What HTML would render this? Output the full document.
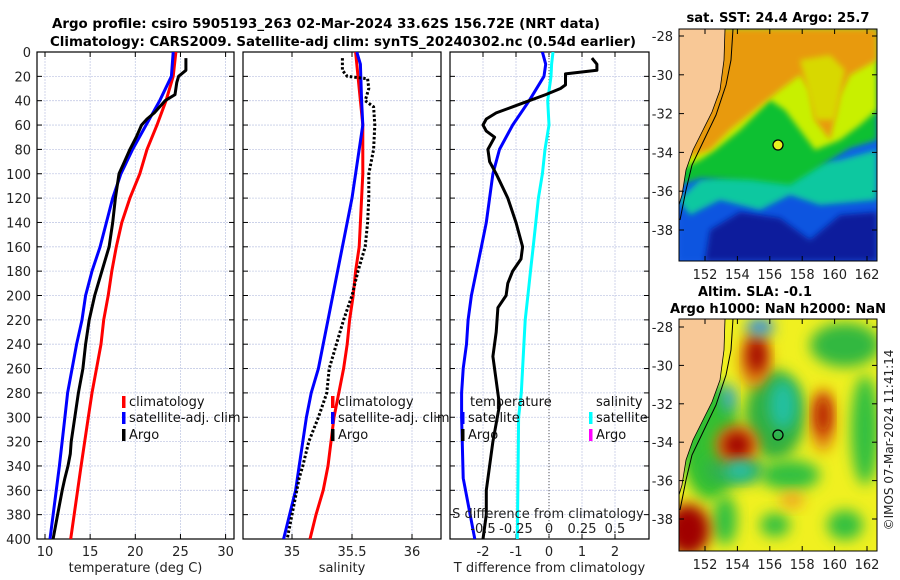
<!DOCTYPE html>
<html><head><meta charset="utf-8"><style>
html,body{margin:0;padding:0;background:#fff;}
svg{display:block;font-family:"DejaVu Sans","Liberation Sans",sans-serif;}
</style></head><body>
<svg id="c" width="900" height="580" viewBox="0 0 900 580" xmlns="http://www.w3.org/2000/svg">
<defs>
<clipPath id="clip1"><rect x="37" y="52" width="197" height="487"/></clipPath>
<clipPath id="clip2"><rect x="243" y="52" width="198" height="487"/></clipPath>
<clipPath id="clip3"><rect x="450" y="52" width="199" height="487"/></clipPath>
<clipPath id="cm1"><rect x="679" y="29" width="198" height="232"/></clipPath>
<clipPath id="cm2"><rect x="679" y="319" width="198" height="232"/></clipPath>
<filter id="bl" x="-50%" y="-50%" width="200%" height="200%"><feGaussianBlur stdDeviation="7"/></filter>
<filter id="bl2" x="-50%" y="-50%" width="200%" height="200%"><feGaussianBlur stdDeviation="3"/></filter>
</defs>
<g font-weight="bold" font-size="13" text-anchor="middle" fill="#000">
<text x="326" y="28" textLength="548" lengthAdjust="spacingAndGlyphs">Argo profile: csiro 5905193_263 02-Mar-2024 33.62S 156.72E (NRT data)</text>
<text x="343" y="46" textLength="586" lengthAdjust="spacingAndGlyphs">Climatology: CARS2009. Satellite-adj clim: synTS_20240302.nc (0.54d earlier)</text>
<text x="778" y="22" textLength="183" lengthAdjust="spacingAndGlyphs">sat. SST: 24.4 Argo: 25.7</text>
<text x="755" y="296" textLength="114" lengthAdjust="spacingAndGlyphs">Altim. SLA: -0.1</text>
<text x="778" y="313" textLength="216" lengthAdjust="spacingAndGlyphs">Argo h1000: NaN h2000: NaN</text>
</g>
<g id="plots"></g>
<g id="maps"></g>
<text transform="translate(893,440) rotate(-90)" font-size="12" text-anchor="middle" fill="#222">©IMOS 07-Mar-2024 11:41:14</text>
</svg>
<script>
// ---- data ----
const tDepth=[0,20,40,60,80,100,120,140,160,180,200,220,240,260,280,300,340,400];
const tClim=[24.5,24.2,23.4,22.4,21.3,20.5,19.4,18.5,17.9,17.4,17.0,16.5,16.2,15.7,15.2,14.8,14.0,12.85];
const tSat=[24.2,24.0,22.7,21.2,19.7,18.4,17.5,16.8,16.1,15.2,14.5,14.1,13.5,13.0,12.5,12.2,11.6,10.55];
const argoDepth=[5,15,20,25,35,40,50,55,60,70,80,90,100,120,140,160,180,200,220,240,260,280,300,320,330,340,350,360,380,400];
const argoT=[25.6,25.6,24.8,24.6,24.4,23.3,22.1,21.3,20.7,20.1,19.4,18.8,18.2,17.8,17.5,17.1,16.3,15.5,14.9,14.5,14.2,13.7,13.3,12.9,12.8,12.55,12.2,11.9,11.4,10.9];
const sDepth=[0,10,40,60,80,100,120,140,160,180,200,220,240,260,280,300,340,360,380,400];
const sClim=[35.53,35.54,35.57,35.59,35.59,35.59,35.58,35.57,35.56,35.53,35.51,35.48,35.46,35.43,35.39,35.35,35.30,35.26,35.20,35.15];
const sSat=[35.54,35.57,35.58,35.59,35.56,35.53,35.50,35.46,35.42,35.38,35.34,35.30,35.26,35.22,35.16,35.12,35.06,35.03,34.98,34.93];
const argoSDepth=[5,15,20,22,30,40,45,60,80,100,120,140,160,180,200,220,240,260,280,300,320,340,350,400];
const argoS=[35.42,35.42,35.46,35.63,35.64,35.61,35.68,35.69,35.68,35.64,35.64,35.63,35.61,35.55,35.50,35.43,35.37,35.31,35.29,35.22,35.14,35.09,35.06,34.96];
const dDepth=[0,10,20,40,60,80,100,120,140,160,180,200,220,240,260,280,300,350,400];
const dTsat=[-0.2,-0.1,-0.15,-0.6,-1.1,-1.5,-1.7,-1.8,-1.9,-2.05,-2.2,-2.35,-2.45,-2.5,-2.6,-2.65,-2.65,-2.6,-2.25];
const dArgoDepth=[5,10,15,18,27,30,35,40,45,50,55,60,65,70,80,90,100,120,140,160,170,180,190,200,210,230,250,270,290,320,340,360,380,400];
const dTargo=[1.3,1.45,1.45,0.5,0.5,0.35,-0.1,-0.6,-1.1,-1.6,-1.9,-2.0,-1.9,-1.65,-1.85,-1.8,-1.6,-1.25,-1.0,-0.8,-0.85,-1.1,-1.25,-1.3,-1.55,-1.6,-1.7,-1.6,-1.5,-1.7,-1.8,-1.9,-1.9,-2.0];
const dSsat=[0.03,0.02,0.015,-0.01,0,-0.03,-0.05,-0.08,-0.1,-0.12,-0.14,-0.16,-0.18,-0.19,-0.2,-0.21,-0.23,-0.235,-0.24];
const yTicks=[0,20,40,60,80,100,120,140,160,180,200,220,240,260,280,300,320,340,360,380,400];
const p1Ticks=[10,15,20,25,30];
const p2Ticks=[35,35.5,36];
const p3Ticks=[-2,-1,0,1,2];
const p3STicks=[-0.5,-0.25,0,0.25,0.5];
const map1LatTicks=[-28,-30,-32,-34,-36,-38];
const lonTicks=[152,154,156,158,160,162];
// ---- scales ----
const NS='http://www.w3.org/2000/svg';
const Y=d=>52+d*1.2175;
const X1=t=>45+(t-10)*9.03;
const X2=s=>292+(s-35)*120;
const X3=t=>549+t*33;
const XS=s=>549+s*132;
const LON=l=>705+(l-152)*16.2;
const LAT1=l=>36+(-28-l)*19.4;
const LAT2=l=>327+(-28-l)*19.2;
const plots=document.getElementById('plots');
const maps=document.getElementById('maps');
function el(tag,attrs,parent,txt){const e=document.createElementNS(NS,tag);for(const k in attrs)e.setAttribute(k,attrs[k]);if(txt!==undefined)e.textContent=txt;(parent||plots).appendChild(e);return e;}
function path(xs,ys,xf){return xs.map((v,i)=>(i?'L':'M')+xf(v).toFixed(1)+','+Y(ys[i]).toFixed(1)).join('');}

function panel(x0,x1,xticks,xf,fmt,xlabel,name){
  const g=el('g',{});
  
  
  yTicks.forEach(d=>{const l=el('line',{x1:x0,x2:x1,y1:Y(d),y2:Y(d),stroke:'#c5cce6','stroke-width':0.8,'stroke-dasharray':'2,1'},g);
    
    
    el('line',{x1:x0,x2:x0+5,y1:Y(d),y2:Y(d),stroke:'#000'},g);el('line',{x1:x1-5,x2:x1,y1:Y(d),y2:Y(d),stroke:'#000'},g);});
  xticks.forEach(v=>{const x=xf(v);const l=el('line',{x1:x,x2:x,y1:52,y2:539,stroke:'#c5cce6','stroke-width':0.8,'stroke-dasharray':'2,1'},g);
    
    
    el('line',{x1:x,x2:x,y1:539,y2:534,stroke:'#000'},g);el('line',{x1:x,x2:x,y1:52,y2:57,stroke:'#000'},g);
    const t=el('text',{x:x,y:556,'font-size':13,'text-anchor':'middle',fill:'#222'},g,fmt(v));
    
    });
  const r=el('rect',{x:x0,y:52,width:x1-x0,height:487,fill:'none',stroke:'#000','stroke-width':1.2},g);
  
  
  const xl=el('text',{x:(x0+x1)/2,y:572,'font-size':13,'text-anchor':'middle',fill:'#222'},g,xlabel);
  
  
  return g;
}
panel(37,234,p1Ticks,X1,v=>String(v),'temperature (deg C)','temperature-panel');
panel(243,441,p2Ticks,X2,v=>String(v),'salinity','salinity-panel');
panel(450,649,p3Ticks,X3,v=>String(v),'T difference from climatology','difference-panel');
yTicks.forEach(d=>{const t=el('text',{x:31,y:Y(d)+5,'font-size':13,'text-anchor':'end',fill:'#222'},plots,String(d));
  
  });
const zl=el('line',{x1:X3(0),x2:X3(0),y1:52,y2:539,stroke:'#555','stroke-width':1,'stroke-dasharray':'1,2'});


function line(d,col,clip,name,dash){const p=el('path',{d:d,fill:'none',stroke:col,'stroke-width':3,'clip-path':'url(#'+clip+')','stroke-linejoin':'round'});
  if(dash)p.setAttribute('stroke-dasharray',dash);
  
  }
line(path(tClim,tDepth,X1),'#f00','clip1','temp-climatology-line');
line(path(tSat,tDepth,X1),'#00f','clip1','temp-satellite-line');
line(path(argoT,argoDepth,X1),'#000','clip1','temp-argo-line');
line(path(sClim,sDepth,X2),'#f00','clip2','sal-climatology-line');
line(path(sSat,sDepth,X2),'#00f','clip2','sal-satellite-line');
line(path(argoS,argoSDepth,X2),'#000','clip2','sal-argo-line','2.5,2');
line(path(dSsat,dDepth,XS),'#0ff','clip3','sdiff-satellite-line');
line(path(dTsat,dDepth,X3),'#00f','clip3','tdiff-satellite-line');
line(path(dTargo,dArgoDepth,X3),'#000','clip3','tdiff-argo-line');
const sl=el('text',{x:548,y:518,'font-size':13,'text-anchor':'middle',fill:'#222'},plots,'S difference from climatology');


p3STicks.forEach(v=>{const t=el('text',{x:XS(v),y:533,'font-size':13,'text-anchor':'middle',fill:'#222'},plots,String(v));
  
  });
function leg(x,y,col,txt,mk){if(mk){const m=el('rect',{x:x,y:y-10,width:3.5,height:12,fill:col});
  
  }
  const t=el('text',{x:x+7,y:y,'font-size':13,fill:'#111'},plots,txt);
  
  }
leg(122,406,'#f00','climatology',1);leg(122,422,'#00f','satellite-adj. clim',1);leg(122,439,'#000','Argo',1);
leg(331,406,'#f00','climatology',1);leg(331,422,'#00f','satellite-adj. clim',1);leg(331,439,'#000','Argo',1);
leg(463,406,'#000','temperature',0);leg(461,422,'#00f','satellite',1);leg(461,439,'#000','Argo',1);
leg(589,406,'#000','salinity',0);leg(589,422,'#0ff','satellite',1);leg(589,439,'#f0f','Argo',1);

// ---- maps ----
function mapFrame(name){
  const g=el('g',{},maps);
  
  
  return g;
}
function axes(g,top,latf){
  el('rect',{x:679,y:top,width:198,height:232,fill:'none',stroke:'#000','stroke-width':1},g);
  map1LatTicks.forEach(l=>{const y=latf(l);el('line',{x1:679,x2:684,y1:y,y2:y,stroke:'#000'},g);el('line',{x1:872,x2:877,y1:y,y2:y,stroke:'#000'},g);
    const t=el('text',{x:673,y:y+5,'font-size':13,'text-anchor':'end',fill:'#222'},g,String(l));
    
    });
  lonTicks.forEach(l=>{const x=LON(l);el('line',{x1:x,x2:x,y1:top,y2:top+5,stroke:'#000'},g);el('line',{x1:x,x2:x,y1:top+232,y2:top+227,stroke:'#000'},g);
    const t=el('text',{x:x,y:top+250,'font-size':13,'text-anchor':'middle',fill:'#222'},g,String(l));
    
    });
}
function land(g,o){
  el('path',{d:`M679,${29+o}L725,${29+o}L724,${60+o}L720,${90+o}L712,${112+o}L703,${130+o}L693,${150+o}L686,${170+o}L682,${195+o}L679,${205+o}Z`,fill:'#f8c896'},g);
  el('path',{d:`M726,${29+o}L733,${29+o}L731,${60+o}L726,${85+o}L716,${115+o}L704,${140+o}L692,${165+o}L686,${190+o}L680,${220+o}`,fill:'none',stroke:'#000','stroke-width':1},g);
  el('path',{d:`M725,${29+o}L724,${60+o}L720,${90+o}L712,${112+o}L703,${130+o}L693,${150+o}L686,${170+o}L682,${195+o}L679,${205+o}`,fill:'none',stroke:'#000','stroke-width':0.8},g);
}
const m1=mapFrame('sst-map');
const s1=el('g',{'clip-path':'url(#cm1)'},m1);
el('rect',{x:679,y:29,width:198,height:232,fill:'#1060e8'},s1);
el('path',{d:'M679,210L700,195L740,200L790,190L830,200L877,185L877,261L679,261Z',fill:'#0a55e0',filter:'url(#bl2)'},s1);
el('path',{d:'M710,230L740,212L780,218L810,240L840,215L877,212L877,261L705,261Z',fill:'#0a1e9c',filter:'url(#bl2)'},s1);
el('path',{d:'M679,200L700,180L760,170L840,160L877,150L877,200L820,205L790,195L760,210L720,200L690,215Z',fill:'#10c8a0',filter:'url(#bl2)'},s1);
el('path',{d:'M679,29L877,29L877,140L850,148L830,160L790,185L750,180L700,178L679,185Z',fill:'#10c030',filter:'url(#bl2)'},s1);
el('path',{d:'M679,29L877,29L877,110L860,125L840,140L815,150L800,130L785,110L770,100L755,115L740,130L715,150L700,160L679,170Z',fill:'#c8f000',filter:'url(#bl2)'},s1);
el('path',{d:'M679,29L877,29L877,60L850,75L840,95L830,140L815,120L810,90L800,75L780,90L755,110L730,130L710,150L679,160Z',fill:'#e89a10',filter:'url(#bl2)'},s1);
el('path',{d:'M800,60L830,55L845,70L835,120L815,120Z',fill:'#d8d800',filter:'url(#bl2)'},s1);
land(s1,0);
const c1=el('circle',{cx:778,cy:145,r:5,fill:'#e8f020',stroke:'#000','stroke-width':1.3},m1);


axes(m1,29,LAT1);
const m2=mapFrame('sla-map');
const s2=el('g',{'clip-path':'url(#cm2)'},m2);
el('rect',{x:679,y:319,width:198,height:232,fill:'#f0f020'},s2);
const blobs=[
 ['#30c030',710,440,30,60],['#30b040',775,415,30,45],['#30b840',845,345,35,22],['#30c040',865,430,14,55],['#30c040',790,475,30,15],
 ['#30c040',775,525,15,12],['#30c040',845,525,18,15],['#30c040',725,520,12,25],['#30b050',735,470,30,15],
 ['#e08010',755,360,16,28],['#a00000',757,355,9,18],['#e08010',737,445,22,20],['#a00000',737,445,14,13],
 ['#e08010',823,420,12,32],['#b01000',823,415,7,20],['#a00000',688,530,22,26],['#f0a020',792,500,12,8],
 ['#20c0a0',783,405,14,25],['#3090e0',760,327,14,9],['#30a0e0',729,398,6,14],['#20c0b0',740,470,15,9]];
blobs.forEach(b=>el('ellipse',{cx:b[1],cy:b[2],rx:b[3],ry:b[4],fill:b[0],filter:'url(#bl)'},s2));
land(s2,290);
const c2=el('circle',{cx:778,cy:435,r:5,fill:'none',stroke:'#000','stroke-width':1.3},m2);


axes(m2,319,LAT2);
</script>
</body></html>
